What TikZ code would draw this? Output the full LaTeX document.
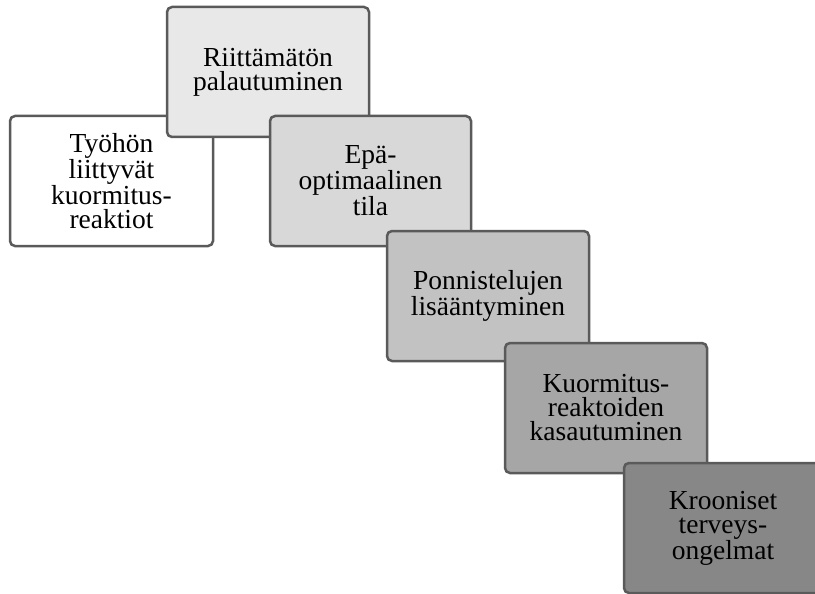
\documentclass[tikz,border=0pt]{standalone}
\usepackage{fontspec}
\setmainfont{Liberation Serif}
\definecolor{edgec}{HTML}{5A5A5A}
\definecolor{f1}{HTML}{FFFFFF}
\definecolor{f2}{HTML}{E8E8E8}
\definecolor{f3}{HTML}{D8D8D8}
\definecolor{f4}{HTML}{C3C2C3}
\definecolor{f5}{HTML}{A6A6A6}
\definecolor{f6}{HTML}{878787}
\tikzset{
  stepbox/.style={draw=edgec, line width=2.5pt, rounded corners=5pt, inner sep=0pt,
    align=center, text=black, font={\fontsize{27.5pt}{24pt}\selectfont}},
}
\begin{document}
\begin{tikzpicture}[x=1pt,y=-1pt]
\useasboundingbox (0,0) rectangle (815,594);
\node[stepbox, fill=f1, minimum width=203pt, minimum height=130pt] (b1) at (111.5,181) {Työhön\\liittyvät\\kuormitus-\\reaktiot};
\node[stepbox, fill=f2, minimum width=202pt, minimum height=130pt] (b2) at (268,72) {Riittämätön\\palautuminen};
\node[stepbox, fill=f3, minimum width=201pt, minimum height=130pt] (b3) at (370.5,181) {Epä-\\optimaalinen\\tila};
\node[stepbox, fill=f4, minimum width=202pt, minimum height=130pt] (b4) at (488,296) {Ponnistelujen\\lisääntyminen};
\node[stepbox, fill=f5, minimum width=202pt, minimum height=130pt] (b5) at (606,408) {Kuormitus-\\reaktoiden\\kasautuminen};
\node[stepbox, fill=f6, minimum width=198pt, minimum height=130pt, text width=194pt] (b6) at (723,528) {Krooniset\\terveys-\\ongelmat};
\end{tikzpicture}
\end{document}
